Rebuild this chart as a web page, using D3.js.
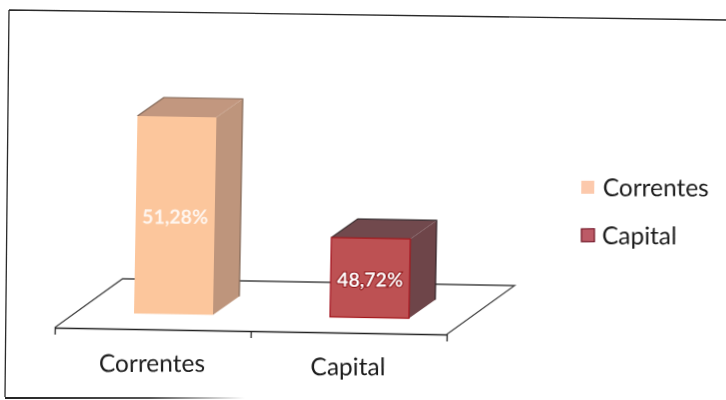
<!DOCTYPE html>
<html>
<head>
<meta charset="utf-8">
<script src="https://cdn.jsdelivr.net/npm/d3@7"></script>
<style>
    html, body { margin: 0; padding: 0; background: #fff; }
    svg { display: block; }
    text { font-family: Lato, "Open Sans", sans-serif; fill: #1a1a1a; }
</style>
</head>
<body>
<svg width="726" height="400"></svg>
<script>
var categories = ["Correntes", "Capital"];
var values = [51.28, 48.72];
var valueLabels = ["51,28%", "48,72%"];
var frontColors = ["#fcc69c", "#bd5152"];
var sideColors = ["#be957b", "#6e4549"];
var topColors = ["#c2977f", "#714a4e"];
var edgeColors = ["none", "#a3161c"];
var legendColors = ["#fcc9ac", "#bc5a66"];
var legendEdges = ["none", "#6d1020"];

var svg = d3.select("svg");

var defs = svg.append("defs");
// scan softness
defs.append("filter").attr("id", "soft")
    .append("feGaussianBlur").attr("stdDeviation", 0.4);
var fade = defs.append("linearGradient").attr("id", "fade");
fade.append("stop").attr("offset", "0").attr("stop-color", "#222");
fade.append("stop").attr("offset", "0.6").attr("stop-color", "#555");
fade.append("stop").attr("offset", "1").attr("stop-color", "#fff");

// the page was scanned a bit crooked, so the whole chart sits in a tilted group
var g = svg.append("g")
    .attr("transform", "rotate(1,250,315)")
    .attr("filter", "url(#soft)");

var floorY = 331,
    floorDx = 67,
    floorDy = -50,
    barDx = 26,
    barDy = -19,
    baseX = (floorDx - barDx) / 2,
    baseY = floorY + (floorDy - barDy) / 2;

var x = d3.scaleBand()
    .domain(categories)
    .range([55, 447])
    .paddingInner(0.597)
    .paddingOuter(0.2985);

// axis does not start at zero in the original
var y = d3.scaleLinear()
    .domain([47, 51.28])
    .range([baseY, 118]);

var tickScale = d3.scaleLinear().domain([0, categories.length]).range([55, 447]);

// chart frame, straight in screen coordinates
svg.append("path")
    .attr("d", "M9,10L726,20M9,10L5,397")
    .attr("fill", "none")
    .attr("stroke", "#2a2a2a")
    .attr("stroke-width", 1.3)
    .attr("filter", "url(#soft)");
svg.append("rect")
    .attr("x", 5).attr("y", 397)
    .attr("width", 240).attr("height", 2)
    .attr("fill", "url(#fade)");

// floor
var floorLeft = tickScale(0), floorRight = tickScale(categories.length);
g.append("path")
    .attr("d", "M" + floorLeft + "," + floorY +
        "L" + (floorLeft + floorDx) + "," + (floorY + floorDy) +
        "L" + (floorRight + floorDx) + "," + (floorY + floorDy) +
        "L" + floorRight + "," + floorY)
    .attr("fill", "none")
    .attr("stroke", "#444")
    .attr("stroke-width", 1.3);

var axis = d3.axisBottom(tickScale)
    .tickValues(d3.range(categories.length + 1))
    .tickSize(7)
    .tickSizeOuter(0)
    .tickFormat("");
var axisG = g.append("g")
    .attr("transform", "translate(0," + floorY + ")")
    .call(axis);
axisG.selectAll("path, line").attr("stroke", "#222").attr("stroke-width", 1.3);

// category labels, text itself stays level
g.selectAll(".cat")
    .data(categories)
    .enter().append("text")
    .attr("class", "cat")
    .attr("text-anchor", "middle")
    .attr("font-size", 24.5)
    .attr("transform", function(d) {
        return "translate(" + (x(d) + x.bandwidth() / 2) + ",373.5) rotate(-1)";
    })
    .text(function(d) { return d; });

// bars
var bar = g.selectAll(".bar")
    .data(categories)
    .enter().append("g")
    .attr("class", "bar");

bar.append("path")
    .attr("d", function(d, i) {
        var x1 = x(d) + baseX + x.bandwidth(), top = y(values[i]);
        return "M" + x1 + "," + top + "l" + barDx + "," + barDy +
            "V" + (baseY + barDy) + "l" + (-barDx) + "," + (-barDy) + "Z";
    })
    .attr("fill", function(d, i) { return sideColors[i]; });

bar.append("path")
    .attr("d", function(d, i) {
        var x0 = x(d) + baseX, top = y(values[i]);
        return "M" + x0 + "," + top + "l" + barDx + "," + barDy +
            "h" + x.bandwidth() + "l" + (-barDx) + "," + (-barDy) + "Z";
    })
    .attr("fill", function(d, i) { return topColors[i]; });

// dark outline on the back edges
bar.append("path")
    .attr("d", function(d, i) {
        var x0 = x(d) + baseX, top = y(values[i]);
        return "M" + x0 + "," + top + "l" + barDx + "," + barDy +
            "h" + x.bandwidth() + "V" + (baseY + barDy);
    })
    .attr("fill", "none")
    .attr("stroke", function(d, i) { return i ? "#2e2224" : "#806656"; })
    .attr("stroke-width", 1.2);

bar.append("rect")
    .attr("x", function(d) { return x(d) + baseX; })
    .attr("y", function(d, i) { return y(values[i]); })
    .attr("width", x.bandwidth())
    .attr("height", function(d, i) { return baseY - y(values[i]); })
    .attr("fill", function(d, i) { return frontColors[i]; })
    .attr("stroke", function(d, i) { return edgeColors[i]; })
    .attr("stroke-width", 1.2);

// value labels
bar.append("text")
    .attr("transform", function(d, i) {
        return "translate(" + (x(d) + baseX + x.bandwidth() / 2) + "," + (i ? 284.5 : 225) + ") rotate(-1)";
    })
    .attr("text-anchor", "middle")
    .attr("font-size", 19.5)
    .attr("font-weight", 700)
    .style("fill", "#fff")
    .style("paint-order", "stroke")
    .attr("stroke", function(d, i) { return i ? "#8c1418" : "none"; })
    .attr("stroke-width", 2)
    .attr("opacity", function(d, i) { return i ? 1 : 0.85; })
    .text(function(d, i) { return valueLabels[i]; });

// legend
var legend = g.selectAll(".legend")
    .data(categories)
    .enter().append("g")
    .attr("class", "legend")
    .attr("transform", function(d, i) { return "translate(579," + (182 + i * 48) + ") rotate(-1)"; });

legend.append("rect")
    .attr("x", function(d, i) { return i; })
    .attr("y", -7)
    .attr("width", 13)
    .attr("height", 13)
    .attr("fill", function(d, i) { return legendColors[i]; })
    .attr("stroke", function(d, i) { return legendEdges[i]; })
    .attr("stroke-width", 1.2);

legend.append("text")
    .attr("x", 21.5)
    .attr("y", 8.5)
    .attr("font-size", 24.5)
    .text(function(d) { return d; });
</script>
</body>
</html>
